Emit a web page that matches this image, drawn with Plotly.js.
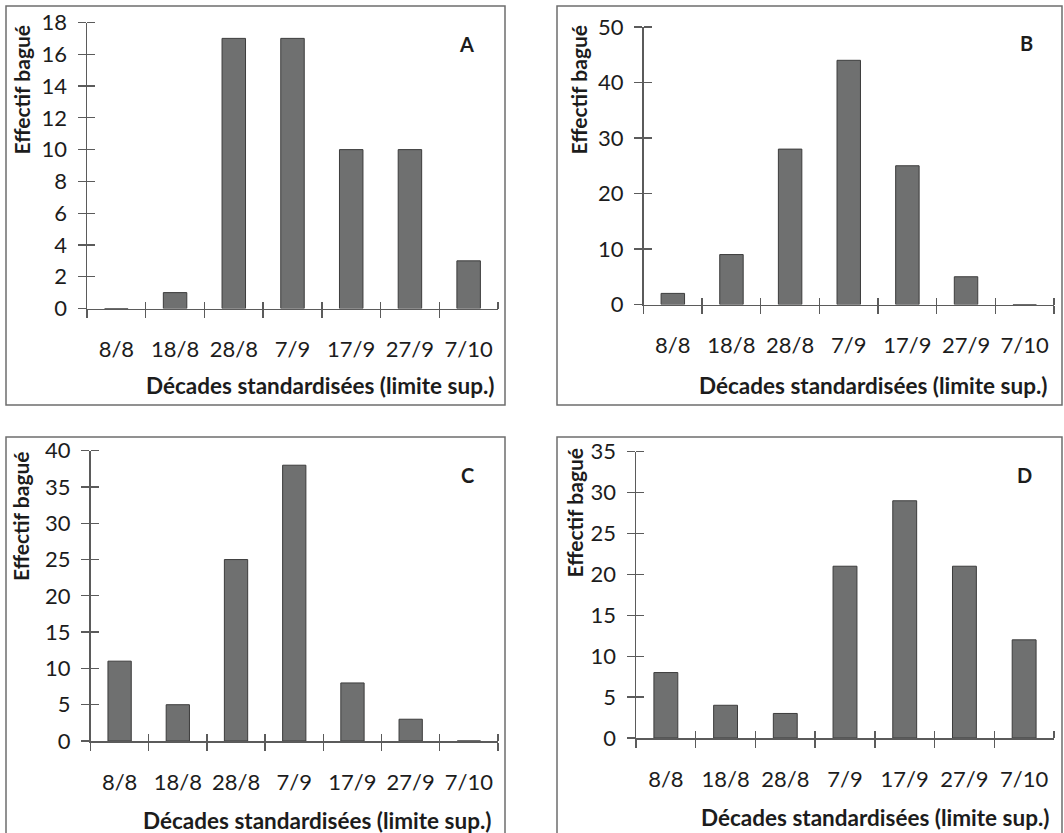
<!DOCTYPE html>
<html>
<head>
<meta charset="utf-8">
<script src="https://cdn.plot.ly/plotly-3.0.1.min.js"></script>
<style>html,body{margin:0;padding:0;background:#fff;}#chart{width:1064px;height:833px;}</style>
</head>
<body>
<div id="chart"></div>
<script>
// ---- data ----
const categories = ['8/8', '18/8', '28/8', '7/9', '17/9', '27/9', '7/10'];
const valuesA = [0, 1, 17, 17, 10, 10, 3];
const valuesB = [2, 9, 28, 44, 25, 5, 0];
const valuesC = [11, 5, 25, 38, 8, 3, 0];
const valuesD = [8, 4, 3, 21, 29, 21, 12];
const panelLetters = ['A', 'B', 'C', 'D'];
const yMaxima = [18, 50, 40, 35];
const yTickSteps = [2, 10, 5, 5];
const yTitleText = 'Effectif bagué';
const xTitleText = 'Décades standardisées (limite sup.)';

// ---- layout helpers ----
const W = 1064, H = 833;
const px = v => v / W;
const py = v => 1 - v / H;

const FONT = 'Lato, "Open Sans", sans-serif';
const TXT = '#1c1c1c';
const AXC = '#5b5b5b';
const BAR_FILL = '#6f7070';
const BAR_LINE = '#3c3c3c';
const EXT = 4; // px the twin tick axes reach past the plot so the end ticks are kept

const seriesList = [valuesA, valuesB, valuesC, valuesD];

// panel geometry (pixels): plot area, axis titles, letter, frame
const panels = [
  {x0: 87,  x1: 498,  y0: 308.5, yTop: 22.5, yt: [20.5, 90],  xt: [319.5, 385], lt: [466.5, 44],  fr: [6, 6, 505, 405]},
  {x0: 643.5, x1: 1054, y0: 304.5, yTop: 27,  yt: [577.5, 90],  xt: [873, 385],  lt: [1026.5, 43.5], fr: [557, 6, 1062, 405]},
  {x0: 90.5, x1: 498,  y0: 741,   yTop: 450.7, yt: [20.5, 516.5], xt: [316.5, 820], lt: [467.5, 475], fr: [6, 437, 505, 845]},
  {x0: 636,  x1: 1054, y0: 738,   yTop: 451.7, yt: [573.5, 513], xt: [875, 817],  lt: [1024.5, 475], fr: [557, 437, 1062, 845]}
];

const data = [];
const layout = {
  width: W, height: H,
  margin: {l: 0, r: 0, t: 0, b: 0},
  paper_bgcolor: '#ffffff',
  plot_bgcolor: 'rgba(0,0,0,0)',
  showlegend: false,
  bargap: 0.6,
  font: {family: FONT, color: TXT},
  annotations: [],
  shapes: []
};

panels.forEach((p, i) => {
  const n = i + 1;
  const xo = i + 5;           // twin axes carrying the inner half of the crossing ticks
  const xk = n === 1 ? 'xaxis' : 'xaxis' + n;
  const yk = n === 1 ? 'yaxis' : 'yaxis' + n;
  const xr = n === 1 ? 'x' : 'x' + n;
  const yr = n === 1 ? 'y' : 'y' + n;
  const xdom = [px(p.x0), px(p.x1)];
  const ydom = [py(p.y0), py(p.yTop)];
  const hPx = p.y0 - p.yTop;
  const wPx = p.x1 - p.x0;
  const nCat = categories.length;

  data.push({
    type: 'bar',
    x: categories,
    y: seriesList[i],
    xaxis: xr, yaxis: yr,
    marker: {color: BAR_FILL, line: {color: BAR_LINE, width: 1}},
    hoverinfo: 'x+y'
  });
  // same series on the twin subplot, drawn with no mark, so that subplot (inside ticks) exists
  data.push({
    type: 'scatter', mode: 'none',
    x: categories, y: seriesList[i],
    xaxis: 'x' + xo, yaxis: 'y' + xo, hoverinfo: 'skip'
  });

  layout[xk] = {
    domain: xdom, anchor: yr,
    type: 'category', range: [-0.5, nCat - 0.5],
    tickson: 'boundaries', ticks: 'outside', ticklen: 8, tickwidth: 1.3, tickcolor: AXC,
    showline: true, linecolor: AXC, linewidth: 1.5,
    showgrid: false, zeroline: false, fixedrange: true,
    tickfont: {family: FONT, size: 22, color: TXT},
    ticklabelstandoff: 21
  };
  layout[yk] = {
    domain: ydom, anchor: xr,
    range: [0, yMaxima[i]], dtick: yTickSteps[i], tick0: 0,
    ticks: 'outside', ticklen: 8, tickwidth: 1.3, tickcolor: AXC,
    showline: true, linecolor: AXC, linewidth: 1.5,
    showgrid: false, zeroline: false, fixedrange: true,
    tickfont: {family: FONT, size: 22, color: TXT},
    ticklabelstandoff: 6
  };
  layout['xaxis' + xo] = {
    domain: [px(p.x0), px(p.x1 + EXT)], anchor: 'y' + xo,
    type: 'category', range: [-0.5, nCat - 0.5 + nCat * EXT / wPx],
    categoryorder: 'array', categoryarray: categories,
    tickson: 'boundaries', ticks: 'inside', ticklen: 7, tickwidth: 1.3, tickcolor: AXC,
    showticklabels: false, showline: false, showgrid: false, zeroline: false, fixedrange: true
  };
  layout['yaxis' + xo] = {
    domain: [py(p.y0), py(p.yTop - EXT)], anchor: 'x' + xo,
    range: [0, yMaxima[i] * (hPx + EXT) / hPx], dtick: yTickSteps[i], tick0: 0,
    ticks: 'inside', ticklen: 8, tickwidth: 1.3, tickcolor: AXC,
    showticklabels: false, showline: false, showgrid: false, zeroline: false, fixedrange: true
  };

  layout.annotations.push({
    xref: 'paper', yref: 'paper', x: px(p.yt[0]), y: py(p.yt[1]),
    text: '<b>' + yTitleText + '</b>', textangle: -90, showarrow: false,
    xanchor: 'center', yanchor: 'middle', font: {family: FONT, size: 21, color: TXT}
  });
  layout.annotations.push({
    xref: 'paper', yref: 'paper', x: px(p.xt[0]), y: py(p.xt[1]),
    text: '<b>' + xTitleText + '</b>', showarrow: false,
    xanchor: 'center', yanchor: 'middle', font: {family: FONT, size: 22.5, color: TXT}
  });
  layout.annotations.push({
    xref: 'paper', yref: 'paper', x: px(p.lt[0]), y: py(p.lt[1]),
    text: '<b>' + panelLetters[i] + '</b>', showarrow: false,
    xanchor: 'center', yanchor: 'middle', font: {family: FONT, size: 20, color: TXT}
  });
  layout.shapes.push({
    type: 'rect', xref: 'paper', yref: 'paper', layer: 'below',
    x0: px(p.fr[0]), y0: py(p.fr[1]), x1: px(p.fr[2]), y1: py(p.fr[3]),
    line: {color: '#6e6e6e', width: 1.5}, fillcolor: 'rgba(0,0,0,0)'
  });
});

Plotly.newPlot('chart', data, layout, {displayModeBar: false, staticPlot: true});
</script>
</body>
</html>
